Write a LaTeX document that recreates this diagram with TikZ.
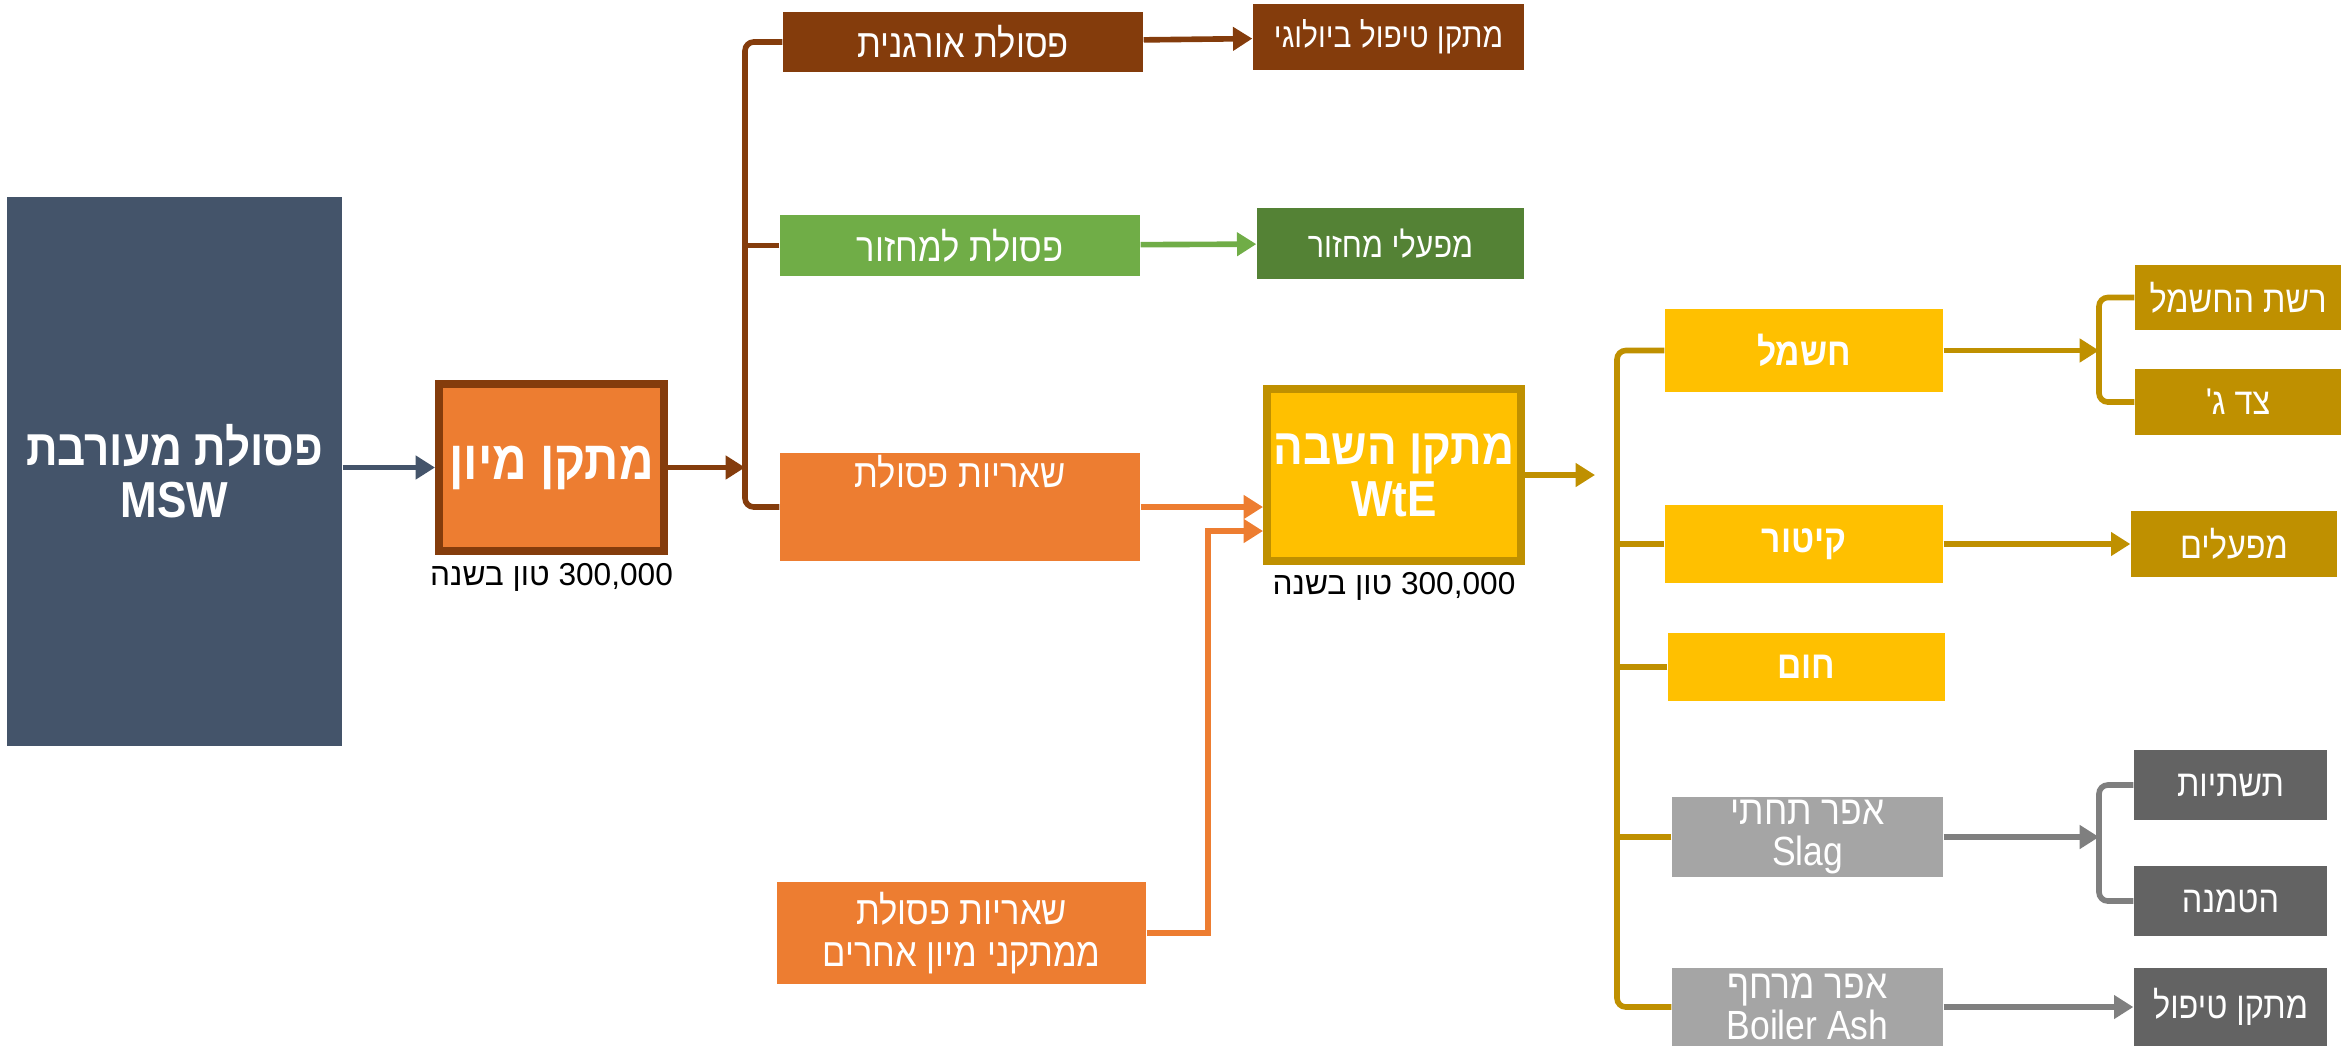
\documentclass[tikz,border=0pt]{standalone}
\usepackage{fontspec}
\setmainfont{Liberation Sans}[FakeStretch=0.87]
\newfontfamily\hebfont{Liberation Sans}[Script=Hebrew, FakeStretch=0.87]
\newfontfamily\plainheb{Liberation Sans}[Script=Hebrew]
\TeXXeTstate=1
\usetikzlibrary{arrows.meta,positioning}

\definecolor{slateblue}{HTML}{44546A}
\definecolor{sortorange}{HTML}{ED7D31}
\definecolor{wastebrown}{HTML}{843C0C}
\definecolor{recgreen}{HTML}{70AD47}
\definecolor{plantgreen}{HTML}{548235}
\definecolor{goldfill}{HTML}{FFC000}
\definecolor{darkgold}{HTML}{BF9000}
\definecolor{ashgray}{HTML}{A5A5A5}
\definecolor{endgray}{HTML}{636363}
\definecolor{arrowgray}{HTML}{7F7F7F}

\newcommand\heb[1]{{\hebfont\beginR #1\endR}}

\begin{document}
\begin{tikzpicture}[
            box/.style={inner sep=0pt, align=center, text=white},
            link/.style={line width=1.6pt, -{Triangle[length=5.5pt,width=6.5pt]}},
            brace/.style={line width=1.6pt, rounded corners=2.5pt},
            bigfont/.style={font=\fontsize{14.4}{14.8}\selectfont\bfseries},
            midfont/.style={font=\fontsize{11.3}{12}\selectfont},
            smallfont/.style={font=\fontsize{10.6}{12}\selectfont},
            goldfont/.style={font=\fontsize{11}{12}\selectfont\bfseries},
            ashfont/.style={font=\fontsize{11.6}{11.6}\selectfont},
            tonfont/.style={font=\plainheb\fontsize{9}{11}\selectfont}
        ]
            \useasboundingbox (0,0) rectangle (23.51,-10.45);

            % mixed waste
            \node[box, bigfont, fill=slateblue, minimum width=3.35cm, minimum height=5.49cm]
                (msw) at (1.745,-4.715) {\heb{פסולת מעורבת}\\MSW};

            % sorting plant
            \node[box, font=\fontsize{15.6}{17}\selectfont\bfseries, fill=sortorange, draw=wastebrown,
                line width=0.08cm, minimum width=2.25cm, minimum height=1.67cm]
                (sort) at (5.515,-4.675) {\heb{מתקן מיון}};
            \node[tonfont, inner sep=0pt, below=0.08cm of sort] (sortton) {\beginR\beginL 300,000\endL{} טון בשנה\endR};

            \draw[link, slateblue] (msw.east |- sort.west) -- (sort.west);

            % sorted streams
            \node[box, midfont, fill=wastebrown, minimum width=3.6cm, minimum height=0.6cm]
                (org) at (9.63,-0.42) {\heb{פסולת אורגנית}};
            \node[box, midfont, fill=recgreen, minimum width=3.6cm, minimum height=0.61cm]
                (rec) at (9.6,-2.455) {\heb{פסולת למחזור}};
            \node[box, midfont, fill=sortorange, minimum width=3.6cm, minimum height=1.08cm,
                text height=0.3cm, text depth=0.7cm]
                (res) at (9.6,-5.07) {\heb{שאריות פסולת}};
            \node[box, midfont, fill=sortorange, minimum width=3.69cm, minimum height=1.02cm]
                (reso) at (9.615,-9.33) {\heb{שאריות פסולת}\\\heb{ממתקני מיון אחרים}};

            \node[box, font=\fontsize{9.8}{11}\selectfont, fill=wastebrown, minimum width=2.71cm, minimum height=0.66cm]
                (bio) at (13.885,-0.37) {\heb{מתקן טיפול ביולוגי}};
            \node[box, font=\fontsize{10}{11}\selectfont, fill=plantgreen, minimum width=2.67cm, minimum height=0.71cm]
                (recp) at (13.905,-2.435) {\heb{מפעלי מחזור}};

            \coordinate (bx) at (7.45,0);
            \draw[link, wastebrown] (sort.east) -- (sort.east -| bx);
            \draw[brace, wastebrown] (org.west) -| (bx |- rec.west) |- (res.west);
            \draw[brace, wastebrown] (rec.west) -- (rec.west -| bx);

            \draw[link, wastebrown] (org) -- (bio);
            \draw[link, recgreen] (rec) -- (recp);

            % WtE plant
            \node[box, font=\fontsize{14.4}{14.9}\selectfont\bfseries, fill=goldfill, draw=darkgold,
                line width=0.08cm, minimum width=2.54cm, minimum height=1.72cm]
                (wte) at (13.94,-4.75) {\heb{מתקן השבה}\\WtE};
            \node[tonfont, inner sep=0pt, below=0.07cm of wte] (wteton) {\beginR\beginL 300,000\endL{} טון בשנה\endR};

            \draw[link, sortorange] (res.east) -- (res.east -| wte.west);
            \draw[link, sortorange] (reso.east) -- ++(0.61,0) |- ([yshift=-0.56cm]wte.west);

            \coordinate (wtetip) at (15.95,-4.75);
            \draw[link, darkgold] (wte.east) -- (wtetip);

            % WtE products
            \node[box, goldfont, fill=goldfill, minimum width=2.78cm, minimum height=0.83cm]
                (el) at (18.04,-3.505) {\heb{חשמל}};
            \node[box, goldfont, fill=goldfill, minimum width=2.78cm, minimum height=0.78cm]
                (steam) at (18.04,-5.44) {\heb{קיטור}};
            \node[box, goldfont, fill=goldfill, minimum width=2.77cm, minimum height=0.68cm]
                (heat) at (18.065,-6.67) {\heb{חום}};
            \node[box, ashfont, fill=ashgray, minimum width=2.71cm, minimum height=0.8cm]
                (slag) at (18.075,-8.37) {\heb{אפר תחתי}\\Slag};
            \node[box, ashfont, fill=ashgray, minimum width=2.71cm, minimum height=0.78cm]
                (ash) at (18.075,-10.07) {\heb{אפר מרחף}\\Boiler Ash};

            \coordinate (gx) at (16.17,0);
            \draw[brace, darkgold] (el.west) -| (gx |- heat.west) |- (ash.west);
            \foreach \n in {steam,heat,slag}
                \draw[brace, darkgold] (\n.west) -- (\n.west -| gx);

            % end users
            \node[box, smallfont, fill=darkgold, minimum width=2.06cm, minimum height=0.65cm]
                (grid) at (22.38,-2.975) {\heb{רשת החשמל}};
            \node[box, smallfont, fill=darkgold, minimum width=2.06cm, minimum height=0.66cm]
                (third) at (22.38,-4.02) {\heb{צד ג'}};
            \node[box, smallfont, fill=darkgold, minimum width=2.06cm, minimum height=0.66cm]
                (plants) at (22.34,-5.44) {\heb{מפעלים}};
            \node[box, smallfont, fill=endgray, minimum width=1.93cm, minimum height=0.7cm]
                (infra) at (22.305,-7.85) {\heb{תשתיות}};
            \node[box, smallfont, fill=endgray, minimum width=1.93cm, minimum height=0.7cm]
                (landfill) at (22.305,-9.01) {\heb{הטמנה}};
            \node[box, smallfont, fill=endgray, minimum width=1.93cm, minimum height=0.78cm]
                (treat) at (22.305,-10.07) {\heb{מתקן טיפול}};

            \coordinate (rx) at (20.99,0);
            \draw[link, darkgold] (el.east) -- (el.east -| rx);
            \draw[brace, darkgold] (grid.west) -| (rx |- el.east) |- (third.west);
            \draw[link, darkgold] (steam) -- (plants);

            \draw[link, arrowgray] (slag.east) -- (slag.east -| rx);
            \draw[brace, arrowgray] (infra.west) -| (rx |- slag.east) |- (landfill.west);
            \draw[link, arrowgray] (ash) -- (treat);

        \end{tikzpicture}
\end{document}
